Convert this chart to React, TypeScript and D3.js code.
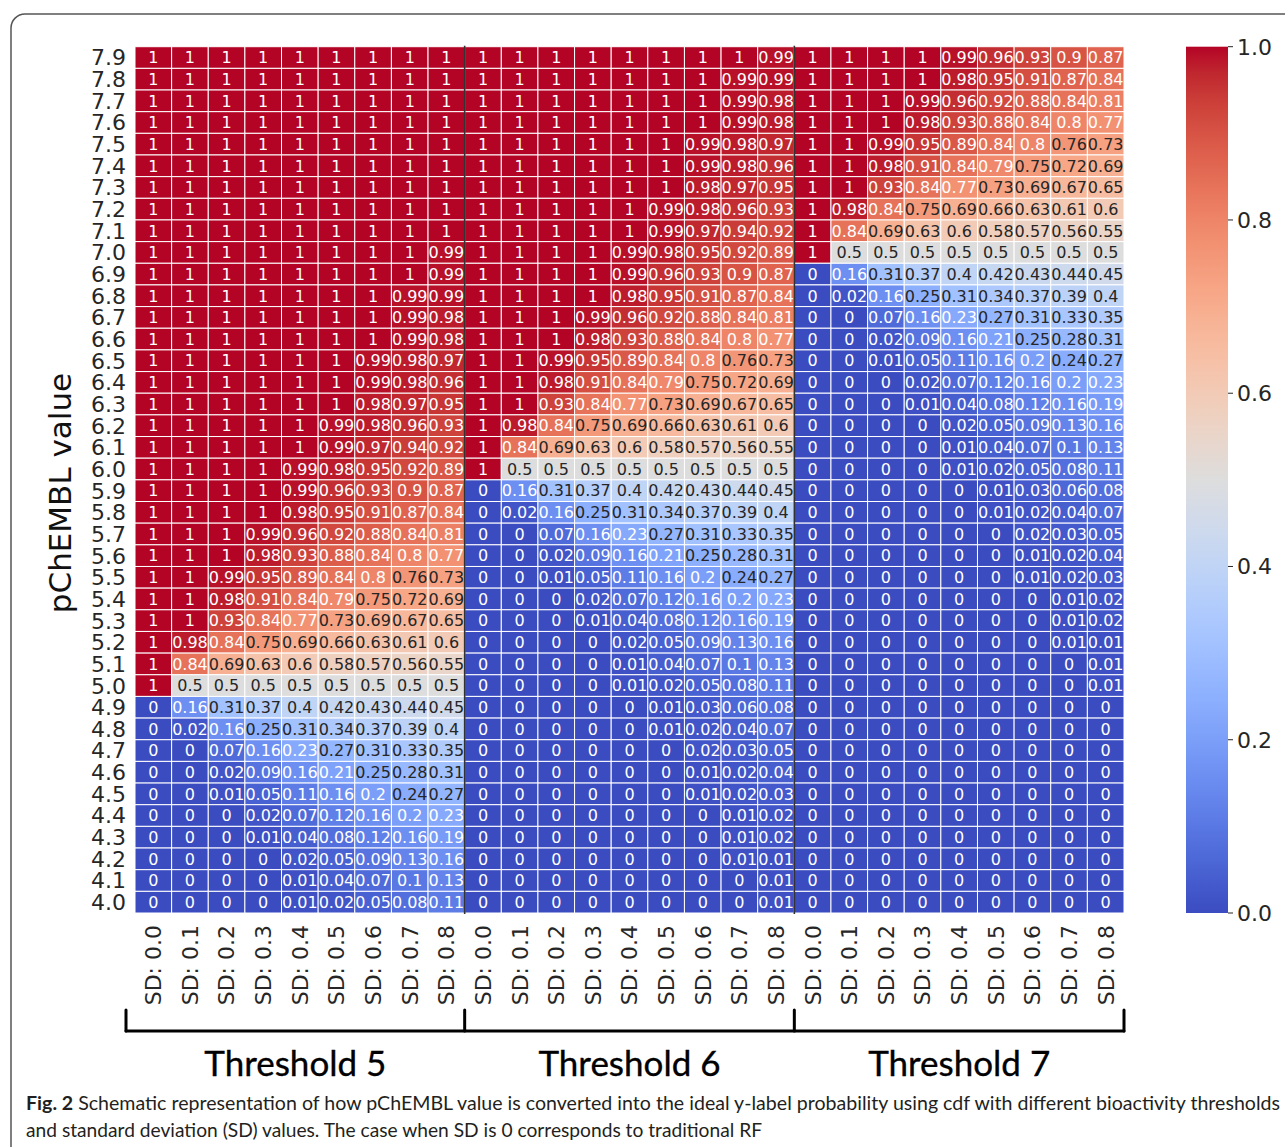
import React from "react";
import * as d3 from "d3";

// ---------- data ----------
const pchemblValues = [
  "7.9", "7.8", "7.7", "7.6", "7.5", "7.4", "7.3", "7.2", "7.1", "7.0",
  "6.9", "6.8", "6.7", "6.6", "6.5", "6.4", "6.3", "6.2", "6.1", "6.0",
  "5.9", "5.8", "5.7", "5.6", "5.5", "5.4", "5.3", "5.2", "5.1", "5.0",
  "4.9", "4.8", "4.7", "4.6", "4.5", "4.4", "4.3", "4.2", "4.1", "4.0",
];

const sdLabels = [
  "SD: 0.0", "SD: 0.1", "SD: 0.2", "SD: 0.3", "SD: 0.4",
  "SD: 0.5", "SD: 0.6", "SD: 0.7", "SD: 0.8",
];

const thresholdLabels = ["Threshold 5", "Threshold 6", "Threshold 7"];

const colorbarTicks = [0.0, 0.2, 0.4, 0.6, 0.8, 1.0];

// rows top (7.9) to bottom (4.0); columns SD 0.0 .. 0.8
const threshold5Rows = [
  "1 1 1 1 1 1 1 1 1",
  "1 1 1 1 1 1 1 1 1",
  "1 1 1 1 1 1 1 1 1",
  "1 1 1 1 1 1 1 1 1",
  "1 1 1 1 1 1 1 1 1",
  "1 1 1 1 1 1 1 1 1",
  "1 1 1 1 1 1 1 1 1",
  "1 1 1 1 1 1 1 1 1",
  "1 1 1 1 1 1 1 1 1",
  "1 1 1 1 1 1 1 1 0.99",
  "1 1 1 1 1 1 1 1 0.99",
  "1 1 1 1 1 1 1 0.99 0.99",
  "1 1 1 1 1 1 1 0.99 0.98",
  "1 1 1 1 1 1 1 0.99 0.98",
  "1 1 1 1 1 1 0.99 0.98 0.97",
  "1 1 1 1 1 1 0.99 0.98 0.96",
  "1 1 1 1 1 1 0.98 0.97 0.95",
  "1 1 1 1 1 0.99 0.98 0.96 0.93",
  "1 1 1 1 1 0.99 0.97 0.94 0.92",
  "1 1 1 1 0.99 0.98 0.95 0.92 0.89",
  "1 1 1 1 0.99 0.96 0.93 0.9 0.87",
  "1 1 1 1 0.98 0.95 0.91 0.87 0.84",
  "1 1 1 0.99 0.96 0.92 0.88 0.84 0.81",
  "1 1 1 0.98 0.93 0.88 0.84 0.8 0.77",
  "1 1 0.99 0.95 0.89 0.84 0.8 0.76 0.73",
  "1 1 0.98 0.91 0.84 0.79 0.75 0.72 0.69",
  "1 1 0.93 0.84 0.77 0.73 0.69 0.67 0.65",
  "1 0.98 0.84 0.75 0.69 0.66 0.63 0.61 0.6",
  "1 0.84 0.69 0.63 0.6 0.58 0.57 0.56 0.55",
  "1 0.5 0.5 0.5 0.5 0.5 0.5 0.5 0.5",
  "0 0.16 0.31 0.37 0.4 0.42 0.43 0.44 0.45",
  "0 0.02 0.16 0.25 0.31 0.34 0.37 0.39 0.4",
  "0 0 0.07 0.16 0.23 0.27 0.31 0.33 0.35",
  "0 0 0.02 0.09 0.16 0.21 0.25 0.28 0.31",
  "0 0 0.01 0.05 0.11 0.16 0.2 0.24 0.27",
  "0 0 0 0.02 0.07 0.12 0.16 0.2 0.23",
  "0 0 0 0.01 0.04 0.08 0.12 0.16 0.19",
  "0 0 0 0 0.02 0.05 0.09 0.13 0.16",
  "0 0 0 0 0.01 0.04 0.07 0.1 0.13",
  "0 0 0 0 0.01 0.02 0.05 0.08 0.11",
];

const threshold6Rows = [
  "1 1 1 1 1 1 1 1 0.99",
  "1 1 1 1 1 1 1 0.99 0.99",
  "1 1 1 1 1 1 1 0.99 0.98",
  "1 1 1 1 1 1 1 0.99 0.98",
  "1 1 1 1 1 1 0.99 0.98 0.97",
  "1 1 1 1 1 1 0.99 0.98 0.96",
  "1 1 1 1 1 1 0.98 0.97 0.95",
  "1 1 1 1 1 0.99 0.98 0.96 0.93",
  "1 1 1 1 1 0.99 0.97 0.94 0.92",
  "1 1 1 1 0.99 0.98 0.95 0.92 0.89",
  "1 1 1 1 0.99 0.96 0.93 0.9 0.87",
  "1 1 1 1 0.98 0.95 0.91 0.87 0.84",
  "1 1 1 0.99 0.96 0.92 0.88 0.84 0.81",
  "1 1 1 0.98 0.93 0.88 0.84 0.8 0.77",
  "1 1 0.99 0.95 0.89 0.84 0.8 0.76 0.73",
  "1 1 0.98 0.91 0.84 0.79 0.75 0.72 0.69",
  "1 1 0.93 0.84 0.77 0.73 0.69 0.67 0.65",
  "1 0.98 0.84 0.75 0.69 0.66 0.63 0.61 0.6",
  "1 0.84 0.69 0.63 0.6 0.58 0.57 0.56 0.55",
  "1 0.5 0.5 0.5 0.5 0.5 0.5 0.5 0.5",
  "0 0.16 0.31 0.37 0.4 0.42 0.43 0.44 0.45",
  "0 0.02 0.16 0.25 0.31 0.34 0.37 0.39 0.4",
  "0 0 0.07 0.16 0.23 0.27 0.31 0.33 0.35",
  "0 0 0.02 0.09 0.16 0.21 0.25 0.28 0.31",
  "0 0 0.01 0.05 0.11 0.16 0.2 0.24 0.27",
  "0 0 0 0.02 0.07 0.12 0.16 0.2 0.23",
  "0 0 0 0.01 0.04 0.08 0.12 0.16 0.19",
  "0 0 0 0 0.02 0.05 0.09 0.13 0.16",
  "0 0 0 0 0.01 0.04 0.07 0.1 0.13",
  "0 0 0 0 0.01 0.02 0.05 0.08 0.11",
  "0 0 0 0 0 0.01 0.03 0.06 0.08",
  "0 0 0 0 0 0.01 0.02 0.04 0.07",
  "0 0 0 0 0 0 0.02 0.03 0.05",
  "0 0 0 0 0 0 0.01 0.02 0.04",
  "0 0 0 0 0 0 0.01 0.02 0.03",
  "0 0 0 0 0 0 0 0.01 0.02",
  "0 0 0 0 0 0 0 0.01 0.02",
  "0 0 0 0 0 0 0 0.01 0.01",
  "0 0 0 0 0 0 0 0 0.01",
  "0 0 0 0 0 0 0 0 0.01",
];

const threshold7Rows = [
  "1 1 1 1 0.99 0.96 0.93 0.9 0.87",
  "1 1 1 1 0.98 0.95 0.91 0.87 0.84",
  "1 1 1 0.99 0.96 0.92 0.88 0.84 0.81",
  "1 1 1 0.98 0.93 0.88 0.84 0.8 0.77",
  "1 1 0.99 0.95 0.89 0.84 0.8 0.76 0.73",
  "1 1 0.98 0.91 0.84 0.79 0.75 0.72 0.69",
  "1 1 0.93 0.84 0.77 0.73 0.69 0.67 0.65",
  "1 0.98 0.84 0.75 0.69 0.66 0.63 0.61 0.6",
  "1 0.84 0.69 0.63 0.6 0.58 0.57 0.56 0.55",
  "1 0.5 0.5 0.5 0.5 0.5 0.5 0.5 0.5",
  "0 0.16 0.31 0.37 0.4 0.42 0.43 0.44 0.45",
  "0 0.02 0.16 0.25 0.31 0.34 0.37 0.39 0.4",
  "0 0 0.07 0.16 0.23 0.27 0.31 0.33 0.35",
  "0 0 0.02 0.09 0.16 0.21 0.25 0.28 0.31",
  "0 0 0.01 0.05 0.11 0.16 0.2 0.24 0.27",
  "0 0 0 0.02 0.07 0.12 0.16 0.2 0.23",
  "0 0 0 0.01 0.04 0.08 0.12 0.16 0.19",
  "0 0 0 0 0.02 0.05 0.09 0.13 0.16",
  "0 0 0 0 0.01 0.04 0.07 0.1 0.13",
  "0 0 0 0 0.01 0.02 0.05 0.08 0.11",
  "0 0 0 0 0 0.01 0.03 0.06 0.08",
  "0 0 0 0 0 0.01 0.02 0.04 0.07",
  "0 0 0 0 0 0 0.02 0.03 0.05",
  "0 0 0 0 0 0 0.01 0.02 0.04",
  "0 0 0 0 0 0 0.01 0.02 0.03",
  "0 0 0 0 0 0 0 0.01 0.02",
  "0 0 0 0 0 0 0 0.01 0.02",
  "0 0 0 0 0 0 0 0.01 0.01",
  "0 0 0 0 0 0 0 0 0.01",
  "0 0 0 0 0 0 0 0 0.01",
  "0 0 0 0 0 0 0 0 0",
  "0 0 0 0 0 0 0 0 0",
  "0 0 0 0 0 0 0 0 0",
  "0 0 0 0 0 0 0 0 0",
  "0 0 0 0 0 0 0 0 0",
  "0 0 0 0 0 0 0 0 0",
  "0 0 0 0 0 0 0 0 0",
  "0 0 0 0 0 0 0 0 0",
  "0 0 0 0 0 0 0 0 0",
  "0 0 0 0 0 0 0 0 0",
];

const captionBold = "Fig. 2";
const captionLine1 =
  "Schematic representation of how pChEMBL value is converted into the ideal y-label probability using cdf with different bioactivity thresholds";
const captionLine2 =
  "and standard deviation (SD) values. The case when SD is 0 corresponds to traditional RF";

// matplotlib "coolwarm" palette (colour map definition, not data)
const coolwarmStops: [number, number, number][] = [
  [59, 76, 192], [68, 90, 204], [77, 104, 215], [87, 117, 225], [98, 130, 234],
  [108, 142, 241], [119, 154, 247], [130, 165, 251], [141, 176, 254], [152, 185, 255],
  [163, 194, 255], [174, 201, 253], [184, 208, 249], [194, 213, 244], [204, 217, 238],
  [213, 219, 230], [221, 221, 221], [229, 216, 209], [236, 211, 197], [241, 204, 184],
  [245, 196, 172], [247, 187, 159], [247, 177, 147], [247, 166, 134], [244, 154, 123],
  [241, 141, 111], [236, 127, 99], [229, 112, 88], [222, 96, 77], [213, 80, 66],
  [203, 62, 56], [192, 40, 47], [180, 4, 38],
];

// ---------- layout ----------
const W = 1285;
const H = 1147;
const HM = { left: 135, right: 1124, top: 46.7, bottom: 913 };
const CB = { left: 1186, right: 1228 };

const blocks = [threshold5Rows, threshold6Rows, threshold7Rows];
const columnKeys = thresholdLabels.flatMap((t) => sdLabels.map((s) => `${t}|${s}`));

const cmap = d3
  .scaleLinear<string>()
  .domain(coolwarmStops.map((_, i) => i / (coolwarmStops.length - 1)))
  .range(coolwarmStops.map((c) => d3.rgb(c[0], c[1], c[2]).toString()))
  .interpolate(d3.interpolateRgb)
  .clamp(true);

function luminance(color: string): number {
  const c = d3.rgb(color);
  const lin = (v: number) => {
    const s = v / 255;
    return s <= 0.03928 ? s / 12.92 : Math.pow((s + 0.055) / 1.055, 2.4);
  };
  return 0.2126 * lin(c.r) + 0.7152 * lin(c.g) + 0.0722 * lin(c.b);
}

const DEJAVU = "'DejaVu Sans', sans-serif";
const HUMANIST = "Lato, 'Open Sans', sans-serif";

export default function App() {
  const x = d3.scaleBand<string>().domain(columnKeys).range([HM.left, HM.right]);
  const y = d3.scaleBand<string>().domain(pchemblValues).range([HM.top, HM.bottom]);
  const cbScale = d3.scaleLinear().domain([0, 1]).range([HM.bottom, HM.top]);

  const cells: { key: string; x: number; y: number; v: number }[] = [];
  blocks.forEach((rows, bi) => {
    rows.forEach((row, ri) => {
      row.split(" ").forEach((s, si) => {
        const key = `${thresholdLabels[bi]}|${sdLabels[si]}`;
        cells.push({ key, x: x(key)!, y: y(pchemblValues[ri])!, v: +s });
      });
    });
  });

  const bw = x.bandwidth();
  const bh = y.bandwidth();

  const sep1 = x(`${thresholdLabels[1]}|${sdLabels[0]}`)!;
  const sep2 = x(`${thresholdLabels[2]}|${sdLabels[0]}`)!;
  const bracketTop = 1010;
  const bracketBottom = 1031;
  const bracketLeft = 126;
  const bracketRight = HM.right;
  const bracketEdges = [bracketLeft, sep1, sep2, bracketRight];

  return (
    <svg
      width={W}
      height={H}
      viewBox={`0 0 ${W} ${H}`}
      style={{ position: "absolute", left: 0, top: 0, display: "block", background: "#fff" }}
    >
      <defs>
        <linearGradient id="cbgrad" x1="0" y1="1" x2="0" y2="0">
          {coolwarmStops.map((c, i) => (
            <stop
              key={i}
              offset={i / (coolwarmStops.length - 1)}
              stopColor={`rgb(${c[0]},${c[1]},${c[2]})`}
            />
          ))}
        </linearGradient>
      </defs>

      {/* frame */}
      <rect x={11} y={14} width={1400} height={1300} rx={14} fill="none" stroke="#555" strokeWidth={1.5} />

      {/* heatmap cells */}
      <g>
        {cells.map((c, i) => (
          <rect key={i} x={c.x} y={c.y} width={bw} height={bh} fill={cmap(c.v)} stroke="#fff" strokeWidth={1} />
        ))}
      </g>

      {/* annotations */}
      <g fontFamily={DEJAVU} fontSize={16} textAnchor="middle">
        {cells.map((c, i) => {
          const col = cmap(c.v);
          const fill = luminance(col) > 0.408 ? "#262626" : "#ffffff";
          return (
            <text key={i} x={c.x + bw / 2} y={c.y + bh / 2} dy="0.36em" fill={fill}>
              {String(c.v)}
            </text>
          );
        })}
      </g>

      {/* threshold separators */}
      {[sep1, sep2].map((sx, i) => (
        <line key={i} x1={sx} x2={sx} y1={HM.top - 1} y2={HM.bottom + 1} stroke="#333" strokeWidth={1.6} />
      ))}

      {/* y tick labels */}
      <g fontFamily={DEJAVU} fontSize={22} fill="#262626" textAnchor="end">
        {pchemblValues.map((p) => (
          <text key={p} x={126} y={y(p)! + bh / 2} dy="0.36em">
            {p}
          </text>
        ))}
      </g>

      {/* y axis label */}
      <text
        transform={`translate(60, 493) rotate(-90)`}
        textAnchor="middle"
        dy="0.36em"
        fontFamily={DEJAVU}
        fontSize={31}
        fill="#111"
      >
        pChEMBL value
      </text>

      {/* x tick labels */}
      <g fontFamily={DEJAVU} fontSize={22} fill="#262626">
        {columnKeys.map((k) => {
          const cx = x(k)! + bw / 2;
          const ty = 925;
          return (
            <text
              key={k}
              x={cx}
              y={ty}
              transform={`rotate(-90, ${cx}, ${ty})`}
              textAnchor="end"
              dy="0.36em"
            >
              {k.split("|")[1]}
            </text>
          );
        })}
      </g>

      {/* brackets */}
      <g stroke="#000" strokeWidth={3} fill="none" strokeLinecap="round" strokeLinejoin="round">
        <path d={`M${bracketLeft},${bracketBottom} H${bracketRight}`} />
        {bracketEdges.map((bx, i) => (
          <path key={i} d={`M${bx},${bracketTop} V${bracketBottom}`} />
        ))}
      </g>

      {/* threshold labels */}
      <g fontFamily={HUMANIST} fontSize={35} fill="#000" stroke="#000" strokeWidth={0.35} textAnchor="middle">
        {thresholdLabels.map((t, i) => (
          <text key={t} x={(bracketEdges[i] + bracketEdges[i + 1]) / 2} y={1076}>
            {t}
          </text>
        ))}
      </g>

      {/* colorbar */}
      <rect x={CB.left} y={HM.top} width={CB.right - CB.left} height={HM.bottom - HM.top} fill="url(#cbgrad)" />
      <g fontFamily={DEJAVU} fontSize={22} fill="#262626">
        {colorbarTicks.map((t) => (
          <g key={t}>
            <line x1={CB.right} x2={CB.right + 5} y1={cbScale(t)} y2={cbScale(t)} stroke="#262626" strokeWidth={1} />
            <text x={CB.right + 9} y={cbScale(t)} dy="0.36em">
              {t.toFixed(1)}
            </text>
          </g>
        ))}
      </g>

      {/* caption */}
      <text x={26} y={1110} fontFamily={HUMANIST} fontSize={19} fill="#231f20" textLength={1254} lengthAdjust="spacingAndGlyphs">
        <tspan fontWeight="bold">{captionBold}</tspan>
        <tspan>{"  " + captionLine1}</tspan>
      </text>
      <text x={26} y={1137} fontFamily={HUMANIST} fontSize={19} fill="#231f20" textLength={736} lengthAdjust="spacingAndGlyphs">
        {captionLine2}
      </text>
    </svg>
  );
}
